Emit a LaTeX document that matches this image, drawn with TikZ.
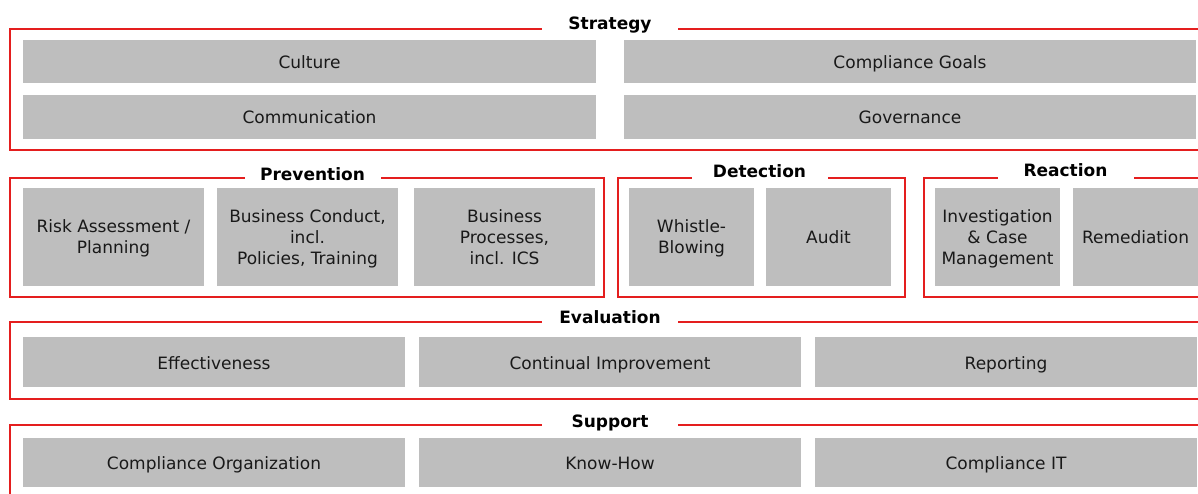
\documentclass[tikz,border=0pt]{standalone}
\usepackage{fontspec}
\setmainfont{DejaVu Sans}
\usepackage{xcolor}
\definecolor{framered}{RGB}{228,30,30}
\definecolor{boxgray}{RGB}{190,190,190}
\definecolor{boxtext}{RGB}{25,25,25}
\newcommand{\boxlines}[1]{\begin{tabular}{@{}c@{}}\rule{0pt}{19pt}#1\end{tabular}}
\begin{document}
\begin{tikzpicture}[x=1pt,y=-1pt,
        redframe/.style={draw=framered, line width=2pt},
        box/.style={fill=boxgray, text=boxtext, inner sep=0pt, font=\fontsize{17}{21}\selectfont},
        onebox/.style={box, text height=15pt, text depth=1pt},
        bartitle/.style={fill=white, text=black, inner sep=0pt, minimum width=136pt, minimum height=24pt, text height=15pt, text depth=1pt, font=\fontsize{17}{21}\selectfont\bfseries}]
        \useasboundingbox (0,0) rectangle (1198,493);
        \clip (0,0) rectangle (1198,493);
        % frames
        \draw[redframe] (10,29) rectangle (1210,150);
        \draw[redframe] (10,178) rectangle (604,297);
        \draw[redframe] (618,178) rectangle (905,297);
        \draw[redframe] (924,178) rectangle (1210,297);
        \draw[redframe] (10,322) rectangle (1210,399);
        \draw[redframe] (10,425) rectangle (1210,510);
        % titles
        \node[bartitle] (strategy) at (610,22.5) {Strategy};
        \node[bartitle] (prevention) at (312.5,173) {Prevention};
        \node[bartitle] (detection) at (759.5,170.2) {Detection};
        \node[bartitle] (reaction) at (1065.5,169.4) {Reaction};
        \node[bartitle] (evaluation) at (610,316.7) {Evaluation};
        \node[bartitle] (support) at (610,420.5) {Support};
        % strategy
        \node[onebox, minimum width=573pt, minimum height=43.5pt] (culture) at (309.5,61.25) {Culture};
        \node[onebox, minimum width=572pt, minimum height=43.5pt] (goals) at (910,61.25) {Compliance Goals};
        \node[onebox, minimum width=573pt, minimum height=44pt] (communication) at (309.5,116.5) {Communication};
        \node[onebox, minimum width=572pt, minimum height=44pt] (governance) at (910,116.5) {Governance};
        % prevention
        \node[box, minimum width=181pt, minimum height=98pt] (risk) at (113.5,236.7) {\boxlines{Risk Assessment /\\Planning}};
        \node[box, minimum width=181pt, minimum height=98pt] (conduct) at (307.5,236.7) {\boxlines{Business Conduct,\\incl.\\ Policies, Training}};
        \node[box, minimum width=181pt, minimum height=98pt] (processes) at (504.5,236.7) {\boxlines{Business\\Processes,\\incl. ICS}};
        % detection
        \node[box, minimum width=125pt, minimum height=98pt] (whistle) at (691.5,236.7) {\boxlines{Whistle-\\Blowing}};
        \node[onebox, minimum width=125pt, minimum height=98pt] (audit) at (828.5,236.7) {Audit};
        % reaction
        \node[box, minimum width=125pt, minimum height=98pt] (investigation) at (997.5,236.7) {\boxlines{Investigation\\\& Case\\Management}};
        \node[onebox, minimum width=125pt, minimum height=98pt] (remediation) at (1135.5,236.7) {Remediation};
        % evaluation
        \foreach \n/\x/\t in {effectiveness/214/Effectiveness, improvement/610/Continual Improvement, reporting/1006/Reporting}
        \node[onebox, minimum width=382pt, minimum height=49.4pt] (\n) at (\x,362) {\t};
        % support
        \foreach \n/\x/\t in {organization/214/Compliance Organization, knowhow/610/Know-How, complianceit/1006/Compliance IT}
        \node[onebox, minimum width=382pt, minimum height=48.4pt] (\n) at (\x,462.5) {\t};
\end{tikzpicture}
\end{document}
